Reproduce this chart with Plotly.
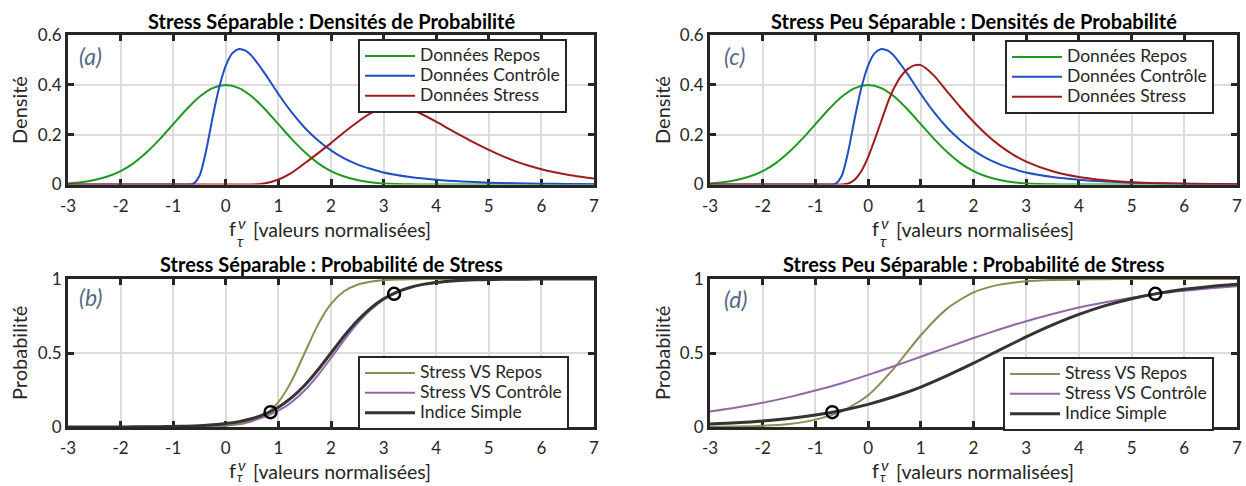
import plotly.graph_objects as go

# ---------------- data ----------------
x_dens = [-3, -2.75, -2.5, -2.25, -2, -1.75, -1.5, -1.25, -1, -0.75, -0.5, -0.25,
          0, 0.25, 0.5, 0.75, 1, 1.25, 1.5, 1.75, 2, 2.25, 2.5, 2.75, 3, 3.25, 3.5,
          3.75, 4, 4.25, 4.5, 4.75, 5, 5.25, 5.5, 5.75, 6, 6.25, 6.5, 6.75, 7]

dens_repos = [0.004, 0.009, 0.018, 0.032, 0.054, 0.086, 0.130, 0.183, 0.242, 0.301,
              0.352, 0.387, 0.399, 0.387, 0.352, 0.301, 0.242, 0.183, 0.130, 0.086,
              0.054, 0.032, 0.018, 0.009, 0.004, 0.002, 0.001, 0, 0, 0, 0, 0, 0, 0,
              0, 0, 0, 0, 0, 0, 0]

x_ctrl = [-3, -2, -1, -0.75, -0.625, -0.5, -0.375, -0.25, -0.125, 0, 0.125, 0.25,
          0.375, 0.5, 0.75, 1, 1.25, 1.5, 1.75, 2, 2.25, 2.5, 2.75, 3, 3.5, 4, 4.5,
          5, 5.5, 6, 6.5, 7]
dens_controle = [0, 0, 0, 0, 0.002, 0.035, 0.135, 0.27, 0.39, 0.477, 0.527, 0.544,
                 0.537, 0.514, 0.443, 0.363, 0.290, 0.228, 0.178, 0.137, 0.105,
                 0.081, 0.063, 0.048, 0.030, 0.019, 0.012, 0.0075, 0.005, 0.0033,
                 0.0022, 0.0015]

dens_stress_sep = [0, 0, 0, 0, 0, 0, 0, 0, 0, 0, 0, 0, 0, 0, 0, 0.005, 0.02, 0.047,
                   0.085, 0.125, 0.166, 0.21, 0.25, 0.285, 0.307, 0.312, 0.302,
                   0.28, 0.252, 0.222, 0.193, 0.165, 0.139, 0.115, 0.094, 0.076,
                   0.061, 0.049, 0.039, 0.031, 0.024]

x_peu = [-3, -2, -1, -0.5, -0.375, -0.25, -0.125, 0, 0.125, 0.25, 0.375, 0.5,
         0.625, 0.75, 0.875, 1, 1.25, 1.5, 1.75, 2, 2.25, 2.5, 2.75, 3, 3.5, 4,
         4.5, 5, 5.5, 6, 6.5, 7]
dens_stress_peu = [0, 0, 0, 0, 0.004, 0.02, 0.055, 0.11, 0.18, 0.255, 0.33, 0.39,
                   0.435, 0.463, 0.478, 0.479, 0.437, 0.373, 0.31, 0.252, 0.2,
                   0.156, 0.12, 0.092, 0.053, 0.03, 0.017, 0.0095, 0.0052, 0.003,
                   0.0016, 0.0009]

x_prob_b = x_dens
prob_b_repos = [0, 0, 0, 0, 0, 0, 0, 0, 0.0003, 0.0007, 0.0017, 0.0037, 0.0082,
                0.018, 0.039, 0.083, 0.168, 0.31, 0.5, 0.69, 0.832, 0.917, 0.961,
                0.982, 0.992, 0.9963, 0.9983, 0.9993, 1, 1, 1, 1, 1, 1, 1, 1, 1,
                1, 1, 1, 1]
prob_b_controle = [0.00005, 0.00008, 0.00014, 0.00022, 0.00036, 0.00058, 0.00095,
                   0.0015, 0.0025, 0.0041, 0.0066, 0.0107, 0.0174, 0.028, 0.0446,
                   0.071, 0.110, 0.168, 0.248, 0.349, 0.466, 0.587, 0.698, 0.790,
                   0.860, 0.909, 0.942, 0.9636, 0.9773, 0.9859, 0.9913, 0.9946,
                   0.9967, 0.998, 0.9988, 0.9992, 0.9995, 0.9997, 0.9998, 0.9999,
                   0.9999]
prob_b_indice = [0.0001, 0.00014, 0.0002, 0.00035, 0.00056, 0.0009, 0.0014, 0.0023,
                 0.0036, 0.0058, 0.0092, 0.0146, 0.0232, 0.0365, 0.057, 0.088,
                 0.134, 0.198, 0.282, 0.385, 0.5, 0.615, 0.718, 0.802, 0.866, 0.912,
                 0.943, 0.9635, 0.977, 0.9853, 0.9908, 0.9942, 0.9964, 0.9977,
                 0.9986, 0.9991, 0.9994, 0.9996, 0.9998, 0.9999, 0.9999]

x_prob_d = [-3, -2.5, -2, -1.5, -1, -0.5, 0, 0.5, 1, 1.5, 2, 2.5, 3, 3.5, 4, 4.5,
            5, 5.5, 6, 6.5, 7]
prob_d_repos = [0.001, 0.003, 0.008, 0.02, 0.05, 0.105, 0.215, 0.40, 0.62, 0.80,
                0.91, 0.962, 0.984, 0.993, 0.997, 0.999, 1, 1, 1, 1, 1]
prob_d_controle = [0.105, 0.132, 0.164, 0.202, 0.246, 0.296, 0.352, 0.412, 0.475,
                   0.538, 0.601, 0.660, 0.715, 0.764, 0.807, 0.843, 0.874, 0.900,
                   0.920, 0.937, 0.951]
prob_d_indice = [0.021, 0.029, 0.041, 0.058, 0.081, 0.112, 0.153, 0.206, 0.270,
                 0.347, 0.431, 0.521, 0.609, 0.690, 0.761, 0.820, 0.867, 0.903,
                 0.930, 0.950, 0.965]

seuil_b_x = [0.85, 3.2]
seuil_b_y = [0.1, 0.9]
seuil_d_x = [-0.68, 5.45]
seuil_d_y = [0.1, 0.9]

x_ticks = [-3, -2, -1, 0, 1, 2, 3, 4, 5, 6, 7]
x_ticktext = ["-3", "-2", "-1", "0", "1", "2", "3", "4", "5", "6", "7"]
dens_ticks = [0, 0.2, 0.4, 0.6]
dens_ticktext = ["0", "0.2", "0.4", "0.6"]
prob_ticks = [0, 0.5, 1]
prob_ticktext = ["0", "0.5", "1"]

# ---------------- style ----------------
W, H = 1246, 486
FONT = "Lato"
DARK = "#262626"
GREEN = "#1f9a1f"
BLUE = "#1f4fc4"
RED = "#a01c1c"
OLIVE = "#8e8c52"
PURPLE = "#9468a8"
BLACK = "#333333"
LABEL = "#566a85"
LEG_SIZE = 17.5


def px(xp):
    return xp / W


def py(yp):
    return 1 - yp / H


fig = go.Figure()


def line(x, y, color, width, name, xa, ya, leg):
    fig.add_trace(go.Scatter(
        x=x, y=y, mode="lines",
        name='<span style="font-size:%spx">%s</span>' % (LEG_SIZE, name),
        xaxis=xa, yaxis=ya, legend=leg, hoverinfo="skip",
        line=dict(color=color, width=width, shape="spline", smoothing=0.7)))


line(x_dens, dens_repos, GREEN, 2, "Données Repos", "x", "y", "legend")
line(x_ctrl, dens_controle, BLUE, 2, "Données Contrôle", "x", "y", "legend")
line(x_dens, dens_stress_sep, RED, 2, "Données Stress", "x", "y", "legend")

line(x_dens, dens_repos, GREEN, 2, "Données Repos", "x2", "y2", "legend2")
line(x_ctrl, dens_controle, BLUE, 2, "Données Contrôle", "x2", "y2", "legend2")
line(x_peu, dens_stress_peu, RED, 2, "Données Stress", "x2", "y2", "legend2")

line(x_prob_b, prob_b_repos, OLIVE, 2, "Stress VS Repos", "x3", "y3", "legend3")
line(x_prob_b, prob_b_controle, PURPLE, 2, "Stress VS Contrôle", "x3", "y3", "legend3")
line(x_prob_b, prob_b_indice, BLACK, 3, "Indice Simple", "x3", "y3", "legend3")

line(x_prob_d, prob_d_repos, OLIVE, 2, "Stress VS Repos", "x4", "y4", "legend4")
line(x_prob_d, prob_d_controle, PURPLE, 2, "Stress VS Contrôle", "x4", "y4", "legend4")
line(x_prob_d, prob_d_indice, BLACK, 3, "Indice Simple", "x4", "y4", "legend4")

for sx, sy, xa, ya in [(seuil_b_x, seuil_b_y, "x3", "y3"), (seuil_d_x, seuil_d_y, "x4", "y4")]:
    fig.add_trace(go.Scatter(
        x=sx, y=sy, mode="markers", xaxis=xa, yaxis=ya, showlegend=False,
        hoverinfo="skip", cliponaxis=False,
        marker=dict(symbol="circle-open", size=12, color="black",
                    line=dict(width=2.4, color="black"))))

# ---------------- axes ----------------
XL = [px(68), px(594)]
XR = [px(710), px(1237)]
YT = [py(184.5), py(35)]
YB = [py(427), py(279)]

tickfont = dict(family=FONT, size=17, color=DARK)
common = dict(ticks="inside", ticklen=6, tickwidth=3, tickcolor=DARK,
              showline=True, linewidth=3, linecolor=DARK, mirror="allticks",
              showgrid=True, gridcolor="#dcdcdc", gridwidth=2, zeroline=False,
              tickfont=tickfont, fixedrange=True, layer="below traces")


def xaxis(domain, anchor):
    return dict(domain=domain, anchor=anchor, range=[-3, 7], tickvals=x_ticks,
                ticktext=x_ticktext, ticklabelstandoff=4, **common)


def yaxis(domain, anchor, rng, tv, tt):
    return dict(domain=domain, anchor=anchor, range=rng, tickvals=tv, ticktext=tt,
                **common)


def legend(xl, yt):
    return dict(x=px(xl), y=py(yt), xanchor="left", yanchor="top", bgcolor="white",
                bordercolor=DARK, borderwidth=2, tracegroupgap=0, itemwidth=50,
                font=dict(family=FONT, size=13, color=DARK))


fig.update_layout(
    width=W, height=H, autosize=False,
    margin=dict(l=0, r=0, t=0, b=0, autoexpand=False),
    paper_bgcolor="white", plot_bgcolor="white",
    font=dict(family=FONT, color=DARK),
    xaxis=xaxis(XL, "y"), yaxis=yaxis(YT, "x", [0, 0.6], dens_ticks, dens_ticktext),
    xaxis2=xaxis(XR, "y2"), yaxis2=yaxis(YT, "x2", [0, 0.6], dens_ticks, dens_ticktext),
    xaxis3=xaxis(XL, "y3"), yaxis3=yaxis(YB, "x3", [0, 1], prob_ticks, prob_ticktext),
    xaxis4=xaxis(XR, "y4"), yaxis4=yaxis(YB, "x4", [0, 1], prob_ticks, prob_ticktext),
    legend=legend(358, 39), legend2=legend(1005, 40),
    legend3=legend(358, 356), legend4=legend(1003, 357),
)

# ---------------- text ----------------
ann = []


def text(t, xp, yp, size, bold=False, angle=0, color=DARK, xanchor="center", italic=False):
    if bold:
        t = "<b>" + t + "</b>"
    if italic:
        t = "<i>" + t + "</i>"
    ann.append(dict(text=t, x=px(xp), y=py(yp), xref="paper", yref="paper",
                    xanchor=xanchor, yanchor="middle", showarrow=False, textangle=angle,
                    font=dict(family=FONT, size=size, color=color)))


text("Stress Séparable : Densités de Probabilité", 331, 21, 20, bold=True, color="#000000")
text("Stress Peu Séparable : Densités de Probabilité", 974, 21, 20, bold=True, color="#000000")
text("Stress Séparable : Probabilité de Stress", 331, 264, 20, bold=True, color="#000000")
text("Stress Peu Séparable : Probabilité de Stress", 974, 264, 20, bold=True, color="#000000")

text("Densité", 19, 110, 20, angle=-90)
text("Densité", 662, 110, 20, angle=-90)
text("Probabilité", 19, 353, 20, angle=-90)
text("Probabilité", 662, 353, 20, angle=-90)

for dx in (0, 643):
    for dy, tau_y, tau_s in ((0, 241, 15), (242, 476.5, 13)):
        text("f", 232 + dx, 228 + dy, 20)
        text("ν", 242 + dx, 222 + dy, 16, italic=True)
        text("τ", 240 + dx, tau_y, tau_s, italic=True)
        text("[valeurs normalisées]", 251 + dx, 229.5 + dy, 19.5, xanchor="left")

text("(a)", 77, 56, 23, italic=True, color=LABEL, xanchor="left")
text("(c)", 722, 56, 23, italic=True, color=LABEL, xanchor="left")
text("(b)", 77, 297, 23, italic=True, color=LABEL, xanchor="left")
text("(d)", 722, 299, 23, italic=True, color=LABEL, xanchor="left")

fig.update_layout(annotations=ann)

fig.write_html(
    "out.html",
    config={"displayModeBar": False},
    post_script="document.body.style.margin='0px';document.body.style.overflow='hidden';",
)
